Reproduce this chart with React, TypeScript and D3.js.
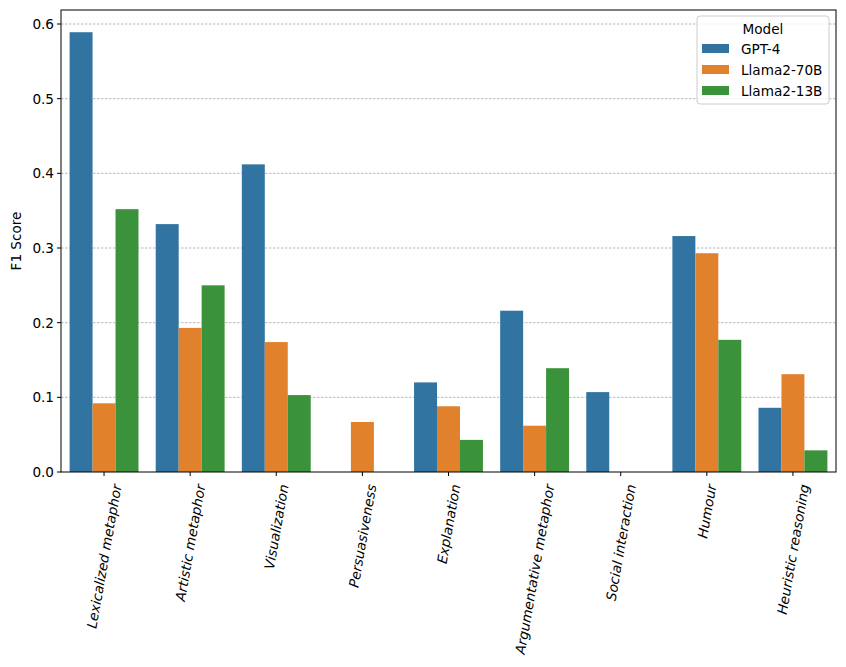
import React, { useEffect, useRef } from 'react';
import * as d3 from 'd3';

const categories = [
  'Lexicalized metaphor',
  'Artistic metaphor',
  'Visualization',
  'Persuasiveness',
  'Explanation',
  'Argumentative metaphor',
  'Social interaction',
  'Humour',
  'Heuristic reasoning',
];
const models = ['GPT-4', 'Llama2-70B', 'Llama2-13B'];
const gpt4 = [0.589, 0.332, 0.412, 0, 0.12, 0.216, 0.107, 0.316, 0.086];
const llama70 = [0.092, 0.193, 0.174, 0.067, 0.088, 0.062, 0, 0.293, 0.131];
const llama13 = [0.352, 0.25, 0.103, 0, 0.043, 0.139, 0, 0.177, 0.029];
const yTicks = [0.0, 0.1, 0.2, 0.3, 0.4, 0.5, 0.6];
const colors = ['#3274a1', '#e1812c', '#3a923a'];

const W = 846;
const H = 667;
const margin = { top: 10, right: 10, bottom: 195, left: 61 };
const FONT = 'DejaVu Sans, sans-serif';
const FS = 13.6;

const App: React.FC = () => {
  const svgRef = useRef<SVGSVGElement>(null);

  useEffect(() => {
    if (!svgRef.current) return;
    const svg = d3.select(svgRef.current);
    svg.selectAll('*').remove();

    const x0 = margin.left;
    const x1 = W - margin.right;
    const y0 = margin.top;
    const y1 = H - margin.bottom;

    const x = d3.scaleBand<string>().domain(categories).range([x0, x1]).paddingInner(0.2).paddingOuter(0.1);
    const xs = d3.scaleBand<string>().domain(models).range([0, x.bandwidth()]);
    const y = d3.scaleLinear().domain([0, 0.6]).range([y1, y0 + 14]);

    // grid
    svg.append('g')
      .selectAll('line')
      .data(yTicks.slice(1))
      .enter().append('line')
      .attr('x1', x0).attr('x2', x1)
      .attr('y1', d => y(d)).attr('y2', d => y(d))
      .attr('stroke', '#8c8c8c').attr('stroke-width', 0.6)
      .attr('stroke-dasharray', '2.5,1.5');

    const series = [gpt4, llama70, llama13];
    series.forEach((vals, si) => {
      svg.append('g')
        .selectAll('rect')
        .data(vals)
        .enter().append('rect')
        .attr('x', (d, i) => (x(categories[i]) as number) + (xs(models[si]) as number))
        .attr('width', xs.bandwidth())
        .attr('y', d => y(d))
        .attr('height', d => y1 - y(d))
        .attr('fill', colors[si]);
    });

    // frame
    svg.append('rect')
      .attr('x', x0).attr('y', y0)
      .attr('width', x1 - x0).attr('height', y1 - y0)
      .attr('fill', 'none').attr('stroke', '#000').attr('stroke-width', 1);

    // y ticks
    const yg = svg.append('g');
    yTicks.forEach(t => {
      yg.append('line')
        .attr('x1', x0 - 4).attr('x2', x0)
        .attr('y1', y(t)).attr('y2', y(t))
        .attr('stroke', '#000');
      yg.append('text')
        .attr('x', x0 - 7).attr('y', y(t))
        .attr('text-anchor', 'end').attr('dominant-baseline', 'central')
        .style('font-family', FONT).style('font-size', `${FS}px`)
        .text(t.toFixed(1));
    });

    svg.append('text')
      .attr('transform', `translate(16,${(y0 + y1) / 2}) rotate(-90)`)
      .attr('text-anchor', 'middle').attr('dominant-baseline', 'central')
      .style('font-family', FONT).style('font-size', `${FS}px`)
      .text('F1 Score');

    // x ticks
    const rad = (80 * Math.PI) / 180;
    categories.forEach(c => {
      const cx = (x(c) as number) + x.bandwidth() / 2;
      svg.append('line')
        .attr('x1', cx).attr('x2', cx)
        .attr('y1', y1).attr('y2', y1 + 4)
        .attr('stroke', '#000');
      const t = svg.append('text')
        .attr('text-anchor', 'middle').attr('dominant-baseline', 'central')
        .style('font-family', FONT).style('font-size', `${FS}px`)
        .style('font-style', 'italic')
        .text(c);
      const w = (t.node() as SVGTextElement).getComputedTextLength();
      const bh = w * Math.sin(rad) + FS * 1.15 * Math.cos(rad);
      const top = y1 + 11;
      t.attr('transform', `translate(${cx},${top + bh / 2}) rotate(-80)`);
    });

    // legend
    const lg = svg.append('g').attr('transform', 'translate(697,16)');
    lg.append('rect')
      .attr('width', 132).attr('height', 88).attr('rx', 3)
      .attr('fill', 'rgba(255,255,255,0.8)').attr('stroke', '#ccc');
    lg.append('text')
      .attr('x', 66).attr('y', 13)
      .attr('text-anchor', 'middle').attr('dominant-baseline', 'central')
      .style('font-family', FONT).style('font-size', `${FS}px`)
      .text('Model');
    models.forEach((m, i) => {
      lg.append('rect')
        .attr('x', 5).attr('y', 28 + i * 21)
        .attr('width', 27).attr('height', 9)
        .attr('fill', colors[i]);
      lg.append('text')
        .attr('x', 44).attr('y', 33 + i * 21)
        .attr('dominant-baseline', 'central')
        .style('font-family', FONT).style('font-size', `${FS}px`)
        .text(m);
    });
  }, []);

  return (
    <svg ref={svgRef} width={W} height={H} style={{ position: 'absolute', left: 0, top: 0, background: '#fff' }} />
  );
};

export default App;
